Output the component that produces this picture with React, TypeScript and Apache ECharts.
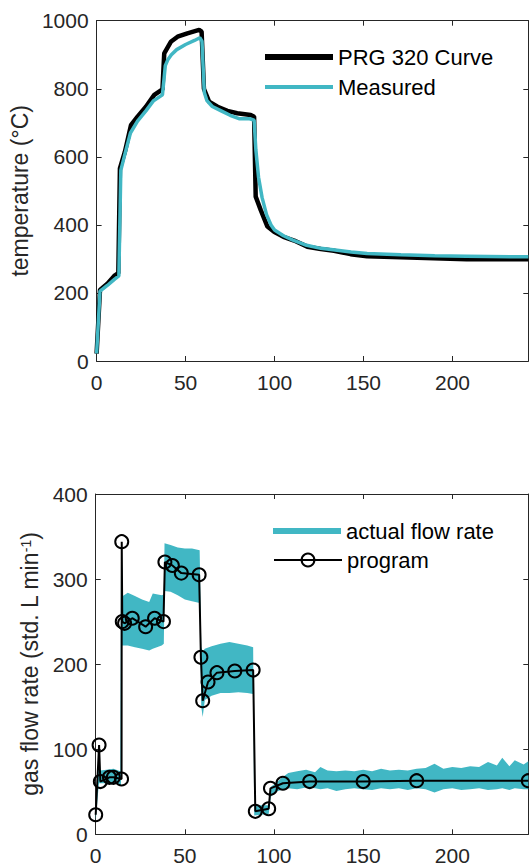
import React, { useEffect, useRef } from 'react';
import * as echarts from 'echarts';

// ---------- data ----------
const X_MAX = 242.6;
const X_INTERVAL = 50;
const TEMP_MAX = 1000;
const TEMP_INTERVAL = 200;
const FLOW_MAX = 400;
const FLOW_INTERVAL = 100;

const tempTimeProgram = [0, 1.9, 6.2, 9.9, 12.2, 13.1, 15.9, 19.3, 23, 27.7, 32.4, 37, 38, 41.7, 45.5, 51, 57.6, 59, 60.3, 63.2, 68, 73.5, 79, 86.6, 88.5, 89.4, 92.2, 96, 99.7, 105, 111, 118.4, 126, 133.4, 142.7, 152, 171, 189.5, 208, 238, 242.6];
const tempProgram = [22, 209, 228, 250, 258, 566, 615, 693, 718, 747, 782, 798, 904, 938, 953, 963, 973, 968, 800, 762, 747, 735, 728, 723, 718, 483, 444, 395, 380, 365, 354, 336, 329, 324, 314, 308, 305, 302, 299, 299, 299];

const tempTimeMeasured = [0, 1.9, 6, 10, 12.5, 13.6, 16, 19, 23, 27.7, 32, 37, 38.6, 40, 42, 45, 50, 55, 58, 59.2, 60.5, 62, 65, 70, 75, 80, 86, 88.5, 89.5, 91, 93, 95.5, 98, 100, 105, 110, 118, 126, 134, 143, 152, 171, 190, 208, 238, 242.6];
const tempMeasured = [22, 205, 222, 240, 250, 560, 610, 670, 705, 735, 765, 782, 868, 885, 900, 915, 930, 942, 950, 940, 790, 765, 748, 735, 722, 712, 712, 708, 620, 540, 480, 430, 400, 385, 368, 356, 340, 331, 326, 320, 316, 312, 309, 308, 306, 306];

const flowProgramTime = [0, 1.9, 2.6, 7.7, 9.9, 14.5, 14.6, 14.9, 16.2, 20.5, 28, 33, 38, 38.8, 43, 48, 58, 59, 60, 63, 68, 78, 88.3, 89.5, 97, 98, 105, 120, 150, 180, 242.6];
const flowProgram = [23, 105, 62, 67, 67, 65, 344, 250, 248, 254, 244, 254, 250, 320, 316, 307, 305, 208, 157, 179, 190, 192, 193, 27, 30, 54, 60, 62, 62, 63, 63];

const flowActualTime = [0, 1.8, 2.6, 6, 10, 13.8, 14.2, 14.7, 15.2, 18, 22, 26, 30, 32, 37, 38.2, 38.6, 42, 46, 50, 54, 58.3, 59.2, 60, 61.2, 65, 70, 75, 80, 85, 88.3, 88.9, 97, 98.2, 101, 104, 108, 113, 118, 123, 126, 130, 135, 140, 145, 150, 155, 160, 165, 170, 175, 180, 185, 190, 195, 200, 205, 210, 215, 220, 225, 228, 232, 235, 240, 242.6];
const flowActualHigh = [30, 100, 75, 76, 77, 74, 325, 325, 280, 284, 280, 276, 273, 283, 281, 282, 342, 340, 337, 336, 336, 334, 220, 215, 218, 221, 224, 226, 224, 222, 220, 34, 34, 56, 60, 66, 72, 74, 76, 73, 79, 75, 74, 75, 74, 76, 74, 77, 75, 76, 75, 77, 78, 83, 77, 79, 78, 80, 79, 85, 81, 90, 80, 87, 82, 86];
const flowActualLow = [16, 60, 60, 60, 61, 58, 58, 222, 222, 222, 220, 218, 216, 218, 222, 224, 286, 285, 281, 276, 274, 272, 150, 138, 158, 163, 166, 166, 167, 166, 165, 22, 24, 44, 50, 52, 54, 53, 55, 54, 53, 54, 51, 53, 54, 53, 52, 54, 53, 54, 52, 54, 53, 49, 53, 54, 52, 53, 54, 52, 53, 54, 52, 54, 53, 53];

// ---------- style ----------
const CYAN = '#41B7C4';
const INK = '#262626';
const FONT = '"Liberation Sans", Arial, Helvetica, sans-serif';

const zip = (xs: number[], ys: number[]) => xs.map((x, i) => [x, ys[i]]);
const plain = (v: number) => String(v);

function xAxisPair(gridIndex: number) {
  const common = {
    type: 'value' as const,
    gridIndex,
    min: 0,
    max: X_MAX,
    interval: X_INTERVAL,
    splitLine: { show: false },
    axisLine: { show: true, onZero: false, lineStyle: { color: INK, width: 1 } },
    axisTick: { show: true, inside: true, length: 5, lineStyle: { color: INK, width: 1 } },
  };
  return [
    {
      ...common,
      position: 'bottom',
      axisLabel: { color: INK, fontSize: 21, fontFamily: FONT, margin: 11, showMaxLabel: false, formatter: plain },
    },
    { ...common, position: 'top', axisLabel: { show: false } },
  ];
}

function yAxisPair(gridIndex: number, max: number, interval: number, name: string, nameGap: number, rich?: any) {
  const common = {
    type: 'value' as const,
    gridIndex,
    min: 0,
    max,
    interval,
    splitLine: { show: false },
    axisLine: { show: true, onZero: false, lineStyle: { color: INK, width: 1 } },
    axisTick: { show: true, inside: true, length: 5, lineStyle: { color: INK, width: 1 } },
  };
  return [
    {
      ...common,
      position: 'left',
      name,
      nameLocation: 'middle',
      nameRotate: 90,
      nameGap,
      nameTextStyle: { fontSize: 23, color: INK, fontFamily: FONT, rich },
      axisLabel: { color: INK, fontSize: 21, fontFamily: FONT, margin: 8, formatter: plain },
    },
    { ...common, position: 'right', axisLabel: { show: false } },
  ];
}

function legendRow(left: number, centerY: number, itemHeight: number, item: any) {
  return {
    orient: 'vertical',
    left,
    top: centerY - 11,
    padding: 0,
    itemWidth: 68,
    itemHeight,
    itemGap: 0,
    selectedMode: false,
    textStyle: { fontSize: 22, color: '#000', fontFamily: FONT, lineHeight: 22 },
    data: [item],
  };
}

const barIcon = (color: string) => ({
  icon: 'rect',
  itemStyle: { color, borderWidth: 0, borderColor: 'rgba(0,0,0,0)' },
});

export default function App() {
  const ref = useRef<HTMLDivElement>(null);
  useEffect(() => {
    if (!ref.current) return;
    const chart = echarts.init(ref.current, null, { renderer: 'svg' });
    const option: any = {
      animation: false,
      backgroundColor: '#fff',
      grid: [
        { left: 95.7, right: 0.7, top: 20.7, height: 340.3 },
        { left: 95.7, right: 0.7, top: 494, height: 340.3 },
      ],
      xAxis: [...xAxisPair(0), ...xAxisPair(1)],
      yAxis: [
        ...yAxisPair(0, TEMP_MAX, TEMP_INTERVAL, 'temperature (°C)', 57),
        ...yAxisPair(1, FLOW_MAX, FLOW_INTERVAL, '{n|gas flow rate (std. L min}{s|-1}{n|)}', 50, {
          n: { fontSize: 23, color: INK, fontFamily: FONT },
          s: { fontSize: 14, color: INK, fontFamily: FONT, verticalAlign: 'top' },
        }),
      ],
      legend: [
        legendRow(265, 57, 6, { name: 'PRG 320 Curve', ...barIcon('#000') }),
        legendRow(265, 87, 4, { name: 'Measured', ...barIcon(CYAN) }),
        legendRow(273, 531, 6, { name: 'actual flow rate', icon: 'none' }),
        legendRow(273, 560, 16, {
          name: 'program',
          itemStyle: { color: 'rgba(0,0,0,0)', borderColor: '#000', borderWidth: 2 },
          lineStyle: { color: '#000', width: 2 },
        }),
      ],
      graphic: [
        // legend swatch for the "actual flow rate" band
        { type: 'rect', left: 273, top: 528, shape: { width: 68, height: 6 }, style: { fill: CYAN }, silent: true, z: 100 },
      ],
      series: [
        {
          type: 'line',
          name: 'PRG 320 Curve',
          xAxisIndex: 0,
          yAxisIndex: 0,
          data: zip(tempTimeProgram, tempProgram),
          symbol: 'none',
          showSymbol: false,
          lineStyle: { color: '#000', width: 4.5 },
          itemStyle: { color: '#000' },
          z: 2,
        },
        {
          type: 'line',
          name: 'Measured',
          xAxisIndex: 0,
          yAxisIndex: 0,
          data: zip(tempTimeMeasured, tempMeasured),
          symbol: 'none',
          showSymbol: false,
          lineStyle: { color: CYAN, width: 3.5 },
          itemStyle: { color: CYAN },
          z: 3,
        },
        {
          type: 'custom',
          name: 'actual flow rate',
          xAxisIndex: 2,
          yAxisIndex: 2,
          clip: true,
          itemStyle: { color: CYAN, borderWidth: 0 },
          data: [[0, 0]],
          renderItem: (_params: any, api: any) => {
            const pts: number[][] = [];
            for (let i = 0; i < flowActualTime.length; i++) {
              pts.push(api.coord([flowActualTime[i], flowActualHigh[i]]));
            }
            for (let i = flowActualTime.length - 1; i >= 0; i--) {
              pts.push(api.coord([flowActualTime[i], flowActualLow[i]]));
            }
            return { type: 'polygon', shape: { points: pts }, style: { fill: CYAN } };
          },
          z: 2,
        },
        {
          type: 'line',
          name: 'program',
          xAxisIndex: 2,
          yAxisIndex: 2,
          data: zip(flowProgramTime, flowProgram),
          symbol: 'circle',
          symbolSize: 13,
          showSymbol: true,
          lineStyle: { color: '#000', width: 2 },
          itemStyle: { color: 'rgba(0,0,0,0)', borderColor: '#000', borderWidth: 2 },
          z: 3,
        },
      ],
    };
    chart.setOption(option);
    return () => chart.dispose();
  }, []);
  return (
    <div
      ref={ref}
      style={{ position: 'fixed', left: 0, top: 0, width: 529, height: 867, background: '#fff' }}
    />
  );
}
